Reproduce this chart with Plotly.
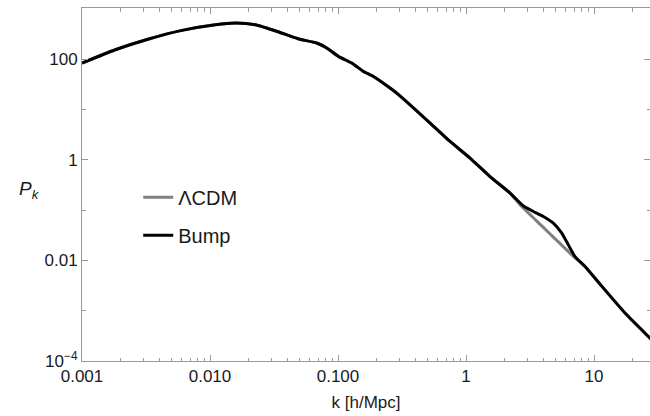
import plotly.graph_objects as go

# ---- data ----
k_bump = [0.001, 0.00182, 0.00332, 0.00604, 0.0110, 0.0158, 0.0226, 0.0340, 0.0487,
          0.0681, 0.0816, 0.1005, 0.128, 0.158, 0.189, 0.255, 0.305, 0.524, 0.750,
          1.074, 1.54, 2.21, 2.81, 3.36, 4.02, 4.81, 5.60, 6.30, 7.11, 8.51, 11.1,
          18.0, 27.4, 30.0]
p_bump = [83.2, 153, 250, 371, 481, 520, 481, 349, 253,
          208, 166, 113, 83.2, 56.6, 45.1, 26.5, 18.6, 5.35, 2.30,
          1.077, 0.463, 0.217, 0.120, 0.0933, 0.0743, 0.0550, 0.0348, 0.0203, 0.0119, 0.00754, 0.00340,
          0.000826, 0.000284, 0.000226]

k_lcdm = [0.001, 0.00182, 0.00332, 0.00604, 0.0110, 0.0158, 0.0226, 0.0340, 0.0487,
          0.0681, 0.0816, 0.1005, 0.128, 0.158, 0.189, 0.255, 0.305, 0.524, 0.750,
          1.074, 1.54, 2.21, 2.64, 3.36, 4.02, 4.81, 5.60, 6.70, 8.51, 11.1,
          18.0, 27.4, 30.0]
p_lcdm = [83.2, 153, 250, 371, 481, 520, 481, 349, 253,
          208, 166, 113, 83.2, 56.6, 45.1, 26.5, 18.6, 5.35, 2.30,
          1.077, 0.463, 0.217, 0.127, 0.0702, 0.0451, 0.0290, 0.0200, 0.0129, 0.00754, 0.00340,
          0.000826, 0.000284, 0.000226]

x_tickvals = [0.001, 0.01, 0.1, 1, 10]
x_ticktext = ["0.001", "0.010", "0.100", "1", "10"]
y_tickvals = [1e-4, 0.01, 1, 100]
y_ticktext = ["10<sup>−4</sup>", "0.01", "1", "100"]
y_minor = [1e-3, 0.1, 10, 1000]
x_minor = [m * d for d in [0.001, 0.01, 0.1, 1, 10] for m in range(2, 10)]

AX = "#9a9a9a"
FONT = "Liberation Sans, Arial, sans-serif"

fig = go.Figure()
fig.add_trace(go.Scatter(x=k_lcdm, y=p_lcdm, mode="lines", name="ΛCDM", legendgroup="a",
                         line=dict(color="#808080", width=3, shape="spline", smoothing=0.5)))
fig.add_trace(go.Scatter(x=k_bump, y=p_bump, mode="lines", name="Bump", legendgroup="b",
                         line=dict(color="black", width=3, shape="spline", smoothing=0.5)))

fig.update_layout(
    width=650, height=416,
    margin=dict(l=82, r=0, t=8, b=55),
    plot_bgcolor="white", paper_bgcolor="white",
    font=dict(family=FONT, size=17, color="#1a1a1a"),
    showlegend=True,
    legend=dict(x=0.099, y=0.41, xanchor="left", yanchor="middle",
                font=dict(size=20, family=FONT, color="#1a1a1a"),
                bgcolor="rgba(0,0,0,0)", tracegroupgap=9, traceorder="grouped"),
    xaxis=dict(type="log", range=[-3, 1.4375], tickvals=x_tickvals, ticktext=x_ticktext,
               ticks="inside", ticklen=6, tickcolor=AX, tickwidth=1,
               showline=True, linecolor=AX, linewidth=1, mirror="ticks",
               showgrid=False, zeroline=False,
               minor=dict(tickvals=x_minor, ticks="inside", ticklen=3.5, tickcolor=AX, showgrid=False),
               title=dict(text="k [h/Mpc]", standoff=10, font=dict(size=17))),
    yaxis=dict(type="log", range=[-4, 3.014], tickvals=y_tickvals, ticktext=y_ticktext,
               ticks="inside", ticklen=6, tickcolor=AX, tickwidth=1,
               showline=True, linecolor=AX, linewidth=1, mirror="ticks",
               showgrid=False, zeroline=False,
               minor=dict(tickvals=y_minor, ticks="inside", ticklen=3.5, tickcolor=AX, showgrid=False)),
    annotations=[dict(text="<i>P<sub>k</sub></i>", xref="paper", yref="paper",
                      x=-0.114, y=0.485, showarrow=False, font=dict(size=19, family=FONT))],
)

fig.write_html("out.html")
